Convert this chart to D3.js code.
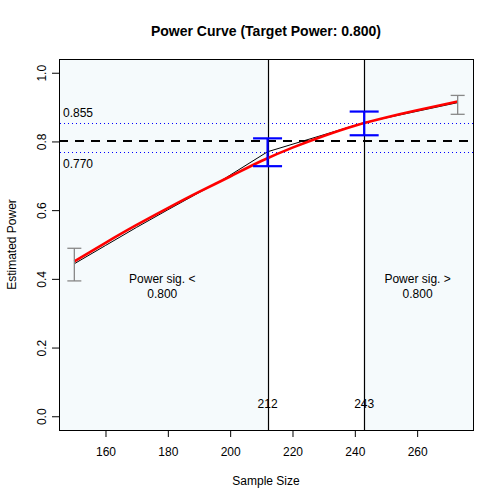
<!DOCTYPE html>
<html>
<head>
<meta charset="utf-8">
<script src="https://cdn.jsdelivr.net/npm/d3@7"></script>
<style>
  body { margin: 0; background: #fff; }
  text { font-family: "Liberation Sans", Arial, sans-serif; fill: #000; }
</style>
</head>
<body>
<div id="chart"></div>
<script>
// fitted curve (red)
const fitN = [150, 160, 170, 180, 190, 200, 210, 220, 230, 240, 250, 260, 273];
const fitPower = [0.451, 0.505, 0.557, 0.606, 0.653, 0.698, 0.743, 0.782, 0.816, 0.846, 0.870, 0.891, 0.916];

// simulated estimates (black)
const estN = [150, 160, 170, 180, 190, 197, 212, 243, 273];
const estPower = [0.444, 0.497, 0.550, 0.601, 0.651, 0.685, 0.770, 0.855, 0.913];

// confidence intervals
const ciN = [150, 212, 243, 273];
const ciLow = [0.394, 0.728, 0.818, 0.879];
const ciHigh = [0.489, 0.809, 0.887, 0.934];
const ciKind = ['end', 'cross', 'cross', 'end'];

const target = 0.8;
const lowerN = 212;
const upperN = 243;
const lowerPower = 0.770;
const upperPower = 0.855;
const xTicks = [160, 180, 200, 220, 240, 260];
const yTicks = [0, 0.2, 0.4, 0.6, 0.8, 1.0];

const width = 504;
const height = 504;
const margin = { top: 59, right: 31, bottom: 74, left: 59 };

const svg = d3.select('#chart').append('svg')
  .attr('width', width)
  .attr('height', height);

const x = d3.scaleLinear()
  .domain([145.08, 277.92])
  .range([margin.left, width - margin.right]);

const y = d3.scaleLinear()
  .domain([-0.04, 1.04])
  .range([height - margin.bottom, margin.top]);

const [x0, x1] = x.domain();
const crisp = v => Math.round(v) + 0.5;

// shaded regions
svg.append('rect')
  .attr('x', x(x0)).attr('y', y(1.04))
  .attr('width', x(lowerN) - x(x0))
  .attr('height', y(-0.04) - y(1.04))
  .attr('fill', '#f5fafc');
svg.append('rect')
  .attr('x', x(upperN)).attr('y', y(1.04))
  .attr('width', x(x1) - x(upperN))
  .attr('height', y(-0.04) - y(1.04))
  .attr('fill', '#f5fafc');

// reference lines
svg.append('line')
  .attr('x1', x(x0)).attr('x2', x(x1))
  .attr('y1', Math.round(y(target))).attr('y2', Math.round(y(target)))
  .attr('stroke', '#000').attr('stroke-width', 2)
  .attr('stroke-dasharray', '9,7');

[upperPower, lowerPower].forEach(v => {
  svg.append('line')
    .attr('x1', x(x0) + 1).attr('x2', x(x1))
    .attr('y1', crisp(y(v))).attr('y2', crisp(y(v)))
    .attr('stroke', 'blue').attr('stroke-width', 1)
    .attr('shape-rendering', 'crispEdges')
    .attr('stroke-dasharray', '1,3');
});

[lowerN, upperN].forEach(n => {
  svg.append('line')
    .attr('x1', crisp(x(n))).attr('x2', crisp(x(n)))
    .attr('y1', y(-0.04)).attr('y2', y(1.04))
    .attr('stroke', '#000').attr('stroke-width', 1.2);
});

// curves
const fitLine = d3.line()
  .x((d, i) => x(fitN[i]))
  .y(d => y(d))
  .curve(d3.curveNatural);

const estLine = d3.line()
  .x((d, i) => x(estN[i]))
  .y(d => y(d));

svg.append('path')
  .attr('d', estLine(estPower))
  .attr('fill', 'none')
  .attr('stroke', '#000')
  .attr('stroke-width', 1);

svg.append('path')
  .attr('d', fitLine(fitPower))
  .attr('fill', 'none')
  .attr('stroke', 'red')
  .attr('stroke-width', 2.6);

// error bars
ciN.forEach((n, i) => {
  const isCross = ciKind[i] === 'cross';
  const color = isCross ? 'blue' : '#888';
  const sw = isCross ? 2.2 : 1.3;
  const cap = isCross ? 14.5 : 7;
  const g = svg.append('g')
    .attr('stroke', color)
    .attr('stroke-width', sw);
  g.append('line')
    .attr('x1', x(n)).attr('x2', x(n))
    .attr('y1', y(ciLow[i])).attr('y2', y(ciHigh[i]));
  [ciLow[i], ciHigh[i]].forEach(v => {
    g.append('line')
      .attr('x1', x(n) - cap).attr('x2', x(n) + cap)
      .attr('y1', y(v)).attr('y2', y(v));
  });
});

// text annotations
svg.append('text')
  .attr('x', x(x0) + 4).attr('y', y(upperPower) - 6)
  .attr('font-size', 12)
  .text(upperPower.toFixed(3));
svg.append('text')
  .attr('x', x(x0) + 4).attr('y', y(lowerPower) + 16)
  .attr('font-size', 12)
  .text(lowerPower.toFixed(3));

[lowerN, upperN].forEach(n => {
  svg.append('text')
    .attr('x', x(n)).attr('y', y(0) - 8)
    .attr('text-anchor', 'middle')
    .attr('font-size', 12)
    .text(n);
});

const regionLabels = [
  { cx: (x(x0) + x(lowerN)) / 2, sign: '<' },
  { cx: (x(upperN) + x(x1)) / 2, sign: '>' },
];
regionLabels.forEach(r => {
  const t = svg.append('text')
    .attr('text-anchor', 'middle')
    .attr('font-size', 12);
  t.append('tspan').attr('x', r.cx - 1).attr('y', 283).text(`Power sig. ${r.sign}`);
  t.append('tspan').attr('x', r.cx - 1).attr('y', 298).text(target.toFixed(3));
});

// box
svg.append('rect')
  .attr('x', crisp(x(x0))).attr('y', crisp(y(1.04)))
  .attr('width', Math.round(x(x1) - x(x0)))
  .attr('height', Math.round(y(-0.04) - y(1.04)))
  .attr('fill', 'none')
  .attr('stroke', '#000')
  .attr('stroke-width', 1);

// axes
const xAxis = svg.append('g')
  .attr('transform', `translate(0,${height - margin.bottom})`)
  .call(d3.axisBottom(x).tickValues(xTicks).tickSize(7).tickPadding(10).tickFormat(d3.format('d')));
xAxis.select('.domain').remove();
xAxis.selectAll('text').attr('font-size', 12).attr('font-family', '"Liberation Sans", Arial, sans-serif').attr('fill', '#000');

const yAxis = svg.append('g')
  .attr('transform', `translate(${margin.left},0)`)
  .call(d3.axisLeft(y).tickValues(yTicks).tickSize(7).tickFormat(d3.format('.1f')));
yAxis.select('.domain').remove();
yAxis.selectAll('.tick text')
  .attr('font-size', 12)
  .attr('font-family', '"Liberation Sans", Arial, sans-serif')
  .attr('fill', '#000')
  .attr('x', null).attr('dy', null)
  .attr('text-anchor', 'middle')
  .attr('transform', 'translate(-17,0) rotate(-90)')
  .attr('dominant-baseline', 'central');

// titles
svg.append('text')
  .attr('x', (x(x0) + x(x1)) / 2).attr('y', 36)
  .attr('text-anchor', 'middle')
  .attr('font-size', 14)
  .attr('font-weight', 'bold')
  .text(`Power Curve (Target Power: ${target.toFixed(3)})`);

svg.append('text')
  .attr('x', (x(x0) + x(x1)) / 2).attr('y', 485)
  .attr('text-anchor', 'middle')
  .attr('font-size', 12)
  .text('Sample Size');

svg.append('text')
  .attr('transform', `translate(16,${(y(-0.04) + y(1.04)) / 2}) rotate(-90)`)
  .attr('text-anchor', 'middle')
  .attr('font-size', 12)
  .text('Estimated Power');
</script>
</body>
</html>
